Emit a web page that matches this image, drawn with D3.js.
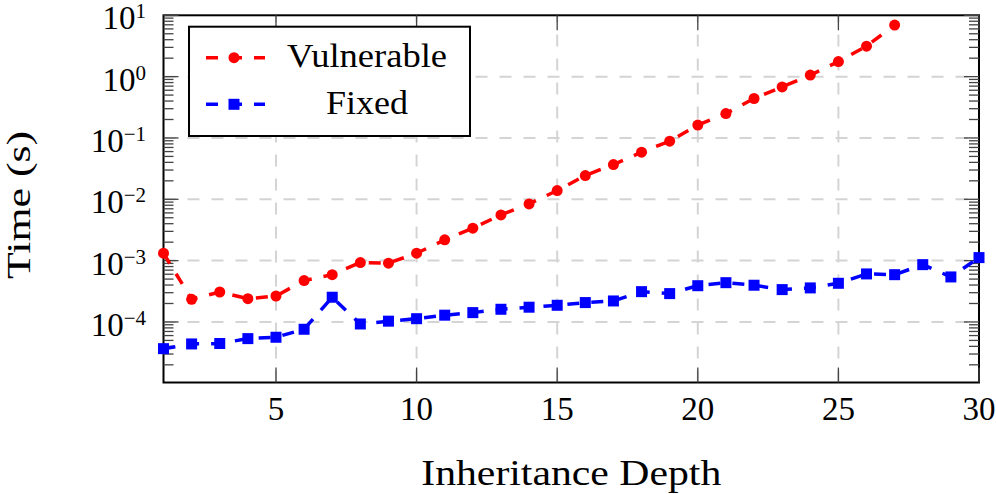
<!DOCTYPE html>
<html>
<head>
<meta charset="utf-8">
<script src="https://cdn.jsdelivr.net/npm/d3@7"></script>
<style>
  body { margin: 0; background: #fff; }
  svg { display: block; }
  text { font-family: "Liberation Serif", "Times New Roman", serif; fill: #000; }
</style>
</head>
<body>
<div id="chart"></div>
<script>
// data
const depth = d3.range(1, 31);
const vulnerable = [1.32e-3, 2.34e-4, 3.08e-4, 2.4e-4, 2.65e-4, 4.72e-4, 5.9e-4, 9.3e-4, 9.1e-4, 1.32e-3,
  2.18e-3, 3.38e-3, 5.57e-3, 8.4e-3, 1.39e-2, 2.44e-2, 3.69e-2, 5.86e-2, 8.87e-2, 0.162,
  0.25, 0.44, 0.68, 1.06, 1.76, 3.14, 6.93];
const fixed = [3.67e-5, 4.38e-5, 4.45e-5, 5.35e-5, 5.63e-5, 7.6e-5, 2.53e-4, 9.27e-5, 1.03e-4, 1.13e-4,
  1.29e-4, 1.42e-4, 1.61e-4, 1.74e-4, 1.87e-4, 2.07e-4, 2.2e-4, 3.12e-4, 2.9e-4, 3.9e-4,
  4.37e-4, 3.97e-4, 3.37e-4, 3.59e-4, 4.27e-4, 6.07e-4, 5.9e-4, 8.6e-4, 5.42e-4, 1.12e-3];
const xTicks = [5, 10, 15, 20, 25, 30];
const yExps = [-4, -3, -2, -1, 0, 1];

const W = 996, H = 494;
const pLeft = 163.5, pRight = 979, pTop = 15.3, pBottom = 382.5;

const svg = d3.select("#chart").append("svg")
  .attr("width", W).attr("height", H);

const x = d3.scaleLinear().domain([1, 30]).range([pLeft, pRight]);
const y = d3.scaleLog().domain([1.03e-5, 10]).range([pBottom, pTop]);

// --- grid ---
const grid = svg.append("g")
  .attr("stroke", "#d4d4d4").attr("stroke-width", 2).attr("stroke-dasharray", "12 12");
grid.selectAll(".gx").data(xTicks.filter(d => d < 30)).join("line")
  .attr("x1", d => x(d)).attr("x2", d => x(d)).attr("y1", pBottom).attr("y2", pTop);
grid.selectAll(".gy").data(yExps.filter(e => e < 1)).join("line")
  .attr("x1", pLeft).attr("x2", pRight).attr("y1", d => y(10 ** d)).attr("y2", d => y(10 ** d));

// --- frame ---
svg.append("rect")
  .attr("x", pLeft).attr("y", pTop).attr("width", pRight - pLeft).attr("height", pBottom - pTop)
  .attr("fill", "none").attr("stroke", "#000").attr("stroke-width", 2);

// --- ticks (inside, both sides) ---
const ticks = svg.append("g").attr("stroke", "#444").attr("stroke-width", 1.3);
xTicks.forEach(d => {
  ticks.append("line").attr("x1", x(d)).attr("x2", x(d)).attr("y1", pBottom).attr("y2", pBottom - 15);
  ticks.append("line").attr("x1", x(d)).attr("x2", x(d)).attr("y1", pTop).attr("y2", pTop + 15);
});
const minor = [];
for (let e = -5; e < 1; e++) for (let m = 2; m <= 9; m++) {
  const v = m * 10 ** e;
  if (v >= y.domain()[0] && v <= 10) minor.push(v);
}
minor.forEach(v => {
  ticks.append("line").attr("x1", pLeft).attr("x2", pLeft + 10).attr("y1", y(v)).attr("y2", y(v));
  ticks.append("line").attr("x1", pRight).attr("x2", pRight - 10).attr("y1", y(v)).attr("y2", y(v));
});
yExps.forEach(e => {
  ticks.append("line").attr("x1", pLeft).attr("x2", pLeft + 15).attr("y1", y(10 ** e)).attr("y2", y(10 ** e));
  ticks.append("line").attr("x1", pRight).attr("x2", pRight - 15).attr("y1", y(10 ** e)).attr("y2", y(10 ** e));
});

// --- tick labels ---
svg.selectAll(".xl").data(xTicks).join("text")
  .attr("x", d => x(d)).attr("y", 420)
  .attr("text-anchor", "middle").style("font-size", "33px")
  .text(d => d);

const yl = svg.selectAll(".yl").data(yExps).join("text")
  .attr("x", 146).attr("y", d => y(10 ** d) + 14)
  .attr("text-anchor", "end").style("font-size", "33px");
yl.append("tspan").text("10");
yl.append("tspan").attr("dy", -11).style("font-size", "21px")
  .text(d => (d < 0 ? "\u2212" + (-d) : d));

// --- axis labels ---
svg.append("text")
  .attr("x", (pLeft + pRight) / 2).attr("y", 485)
  .attr("text-anchor", "middle").style("font-size", "35px")
  .attr("textLength", 300).attr("lengthAdjust", "spacingAndGlyphs")
  .text("Inheritance Depth");

svg.append("text")
  .attr("transform", `translate(29.5, ${(pTop + pBottom) / 2 + 6}) rotate(-90)`)
  .attr("text-anchor", "middle").style("font-size", "33px")
  .attr("textLength", 148).attr("lengthAdjust", "spacingAndGlyphs")
  .text("Time (s)");

// --- series ---
const series = [
  { name: "Vulnerable", color: "#ff0000", values: vulnerable, mark: "circle" },
  { name: "Fixed", color: "#0000ff", values: fixed, mark: "square" }
];

const line = d3.line().x((d, i) => x(depth[i])).y(d => y(d));

function drawMark(g, mark, cx, cy, color) {
  if (mark === "circle") {
    g.append("circle").attr("cx", cx).attr("cy", cy).attr("r", 5.5).attr("fill", color);
  } else {
    g.append("rect").attr("x", cx - 5.5).attr("y", cy - 5.5).attr("width", 11).attr("height", 11).attr("fill", color);
  }
}

series.forEach(s => {
  const g = svg.append("g");
  g.append("path").datum(s.values)
    .attr("d", line)
    .attr("fill", "none").attr("stroke", s.color).attr("stroke-width", 3.5)
    .attr("stroke-dasharray", "12 12");
  s.values.forEach((v, i) => drawMark(g, s.mark, x(depth[i]), y(v), s.color));
});

// --- legend ---
const lg = svg.append("g");
lg.append("rect").attr("x", 189).attr("y", 26.7).attr("width", 281).attr("height", 109.3)
  .attr("fill", "#fff").attr("stroke", "#000").attr("stroke-width", 2);
const rowY = [57.7, 104.3];
const textW = [160, 82];
series.forEach((s, i) => {
  lg.append("line").attr("x1", 203).attr("x2", 265).attr("y1", rowY[i]).attr("y2", rowY[i])
    .attr("stroke", s.color).attr("stroke-width", 3.5).attr("stroke-dasharray", "12 12")
    .attr("stroke-dashoffset", -3);
  drawMark(lg, s.mark, 234, rowY[i], s.color);
  lg.append("text").attr("x", 367).attr("y", rowY[i] + 9.5)
    .attr("text-anchor", "middle").style("font-size", "34px")
    .attr("textLength", textW[i]).attr("lengthAdjust", "spacingAndGlyphs")
    .text(s.name);
});
</script>
</body>
</html>
